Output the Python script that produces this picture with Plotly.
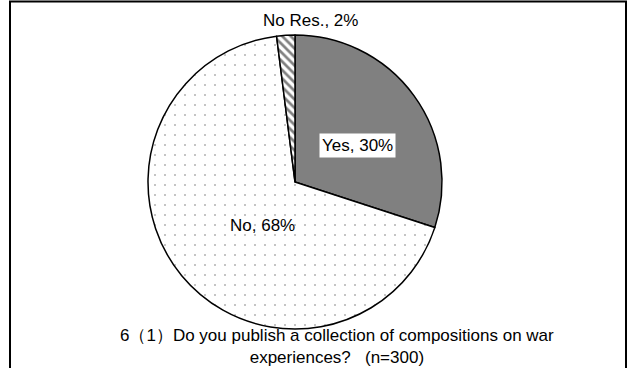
import plotly.graph_objects as go

categories = ["Yes", "No", "No Res."]
values = [30, 68, 2]
label_text = ["Yes, 30%", "No, 68%", "No Res., 2%"]
title_lines = ["6（1）Do you publish a collection of compositions on war",
               "experiences?\u00a0\u00a0\u00a0(n=300)"]

W, H = 627, 368
cx, cy, r = 295, 182, 147

fig = go.Figure(go.Pie(
    labels=categories,
    values=values,
    sort=False,
    direction="clockwise",
    rotation=0,
    textinfo="none",
    hoverinfo="label+percent",
    showlegend=False,
    domain=dict(x=[(cx - r) / W, (cx + r) / W],
                y=[(H - cy - r) / H, (H - cy + r) / H]),
    marker=dict(
        colors=["#808080", "#ffffff", "#ffffff"],
        line=dict(color="#000000", width=1.5),
        pattern=dict(
            shape=["", ".", "\\"],
            fgcolor=["#808080", "#b0b0b0", "#808080"],
            bgcolor=["#808080", "#ffffff", "#ffffff"],
            size=[8, 10, 6],
            solidity=[0.3, 0.03, 0.45],
            fillmode="replace",
        ),
    ),
))

font = dict(family="Liberation Sans, Arial, sans-serif", size=17, color="#000000")
label_pos = [(357, 145), (262, 225), (310, 21)]
for txt, (x, y), bg in zip(label_text, label_pos, ["#ffffff", None, None]):
    ann = dict(text=txt, x=x / W, y=1 - y / H, xref="paper", yref="paper",
               showarrow=False, font=font, xanchor="center", yanchor="middle")
    if bg:
        ann.update(bgcolor=bg, borderpad=2)
    fig.add_annotation(**ann)

title_font = dict(family="Liberation Sans, Arial, sans-serif", size=17, color="#000000")
fig.add_annotation(text="<br>".join(title_lines), x=337 / W, y=1 - 346 / H,
                   xref="paper", yref="paper", showarrow=False, font=title_font,
                   xanchor="center", yanchor="middle", align="center")

fig.add_shape(type="rect", xref="paper", yref="paper",
              x0=10 / W, x1=626 / W, y0=-0.05, y1=1 - 1.5 / H,
              line=dict(color="#000000", width=2), fillcolor="rgba(0,0,0,0)")

fig.update_layout(width=W, height=H, margin=dict(l=0, r=0, t=0, b=0),
                  paper_bgcolor="#ffffff", plot_bgcolor="#ffffff")

fig.write_html("out.html",
               config={"displayModeBar": False},
               post_script="document.body.style.margin='0';"
                           "document.body.style.overflow='hidden';")
